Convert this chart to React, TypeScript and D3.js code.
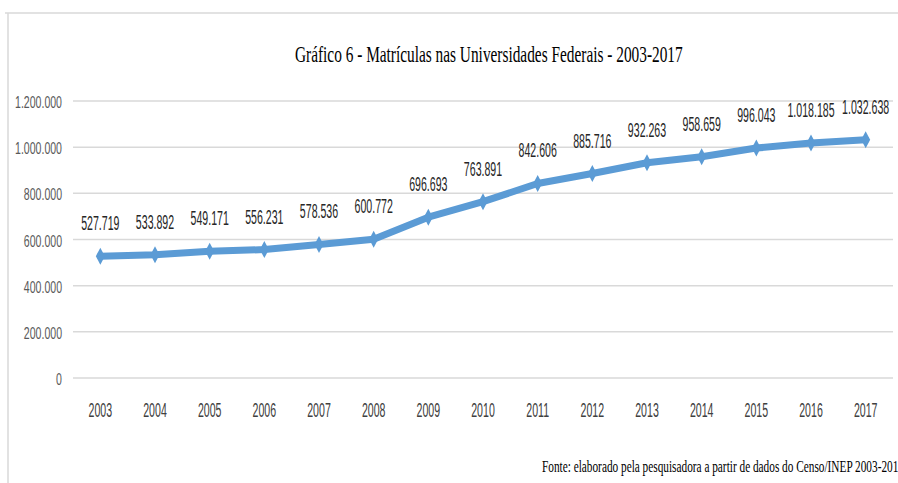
import * as d3 from 'd3'

// dados do gráfico
const anos = ['2003', '2004', '2005', '2006', '2007', '2008', '2009', '2010', '2011', '2012', '2013', '2014', '2015', '2016', '2017']
const matriculas = [527719, 533892, 549171, 556231, 578536, 600772, 696693, 763891, 842606, 885716, 932263, 958659, 996043, 1018185, 1032638]
const yTicks = [0, 200000, 400000, 600000, 800000, 1000000, 1200000]

const titulo = 'Gráfico 6 - Matrículas nas Universidades Federais - 2003-2017'
const fonte = 'Fonte: elaborado pela pesquisadora a partir de dados do Censo/INEP 2003-2017'

const W = 898
const H = 483

const ptBR = d3.formatLocale({ decimal: ',', thousands: '.', grouping: [3], currency: ['R$', ''] })
const fmt = ptBR.format(',d')

const App = () => {
  const x = d3.scaleBand().domain(anos).range([73, 893])
  const y = d3.scaleLinear().domain([0, 1200000]).range([378, 101])
  const cx = (d: string) => (x(d) as number) + x.bandwidth() / 2

  const pts: [number, number][] = anos.map((a, i) => [cx(a), y(matriculas[i])])
  const line = d3.line().curve(d3.curveLinear)(pts) as string
  const diamond = 'M0,-8.5L4.5,0L0,8.5L-4.5,0Z'

  const sans = '"Liberation Sans", Arial, sans-serif'
  const serif = '"Liberation Serif", "Times New Roman", serif'

  return (
    <svg width={W} height={H} style={{ position: 'absolute', left: 0, top: 0, background: '#fff' }}>
      {/* moldura */}
      <line x1={5} x2={W} y1={13} y2={13} stroke="#d9d9d9" strokeWidth={1.5} />
      <line x1={8} x2={8} y1={13} y2={H} stroke="#d9d9d9" strokeWidth={1.5} />

      {/* título */}
      <text transform="translate(295,62) scale(0.64,1)" fontFamily={serif} fontSize={24} fill="#000">
        {titulo}
      </text>

      {/* grade e eixo Y */}
      {yTicks.map(t => (
        <g key={t}>
          <line x1={73} x2={893} y1={y(t)} y2={y(t)} stroke="#d9d9d9" strokeWidth={1.5} />
          <text
            transform={`translate(62,${y(t) + 7}) scale(0.66,1)`}
            textAnchor="end"
            fontFamily={sans}
            fontSize={16}
            fill="#595959"
          >
            {fmt(t)}
          </text>
        </g>
      ))}

      {/* eixo X */}
      {anos.map(a => (
        <text
          key={a}
          transform={`translate(${cx(a)},416.5) scale(0.53,1)`}
          textAnchor="middle"
          fontFamily={sans}
          fontSize={20}
          fill="#404040"
        >
          {a}
        </text>
      ))}

      {/* linha */}
      <path d={line} fill="none" stroke="#5b9bd5" strokeWidth={7} strokeLinejoin="round" strokeLinecap="round" />
      {pts.map(([px, py], i) => (
        <path key={i} d={diamond} transform={`translate(${px},${py})`} fill="#5b9bd5" />
      ))}

      {/* rótulos de dados */}
      {pts.map(([px, py], i) => (
        <text
          key={'l' + i}
          transform={`translate(${px},${py - 26}) scale(0.53,1)`}
          textAnchor="middle"
          fontFamily={sans}
          fontSize={20}
          fill="#262626"
        >
          {fmt(matriculas[i])}
        </text>
      ))}

      {/* fonte */}
      <text x={542} y={472} fontFamily={serif} fontSize={17} fill="#000" textLength={362} lengthAdjust="spacingAndGlyphs">
        {fonte}
      </text>
    </svg>
  )
}

export default App
